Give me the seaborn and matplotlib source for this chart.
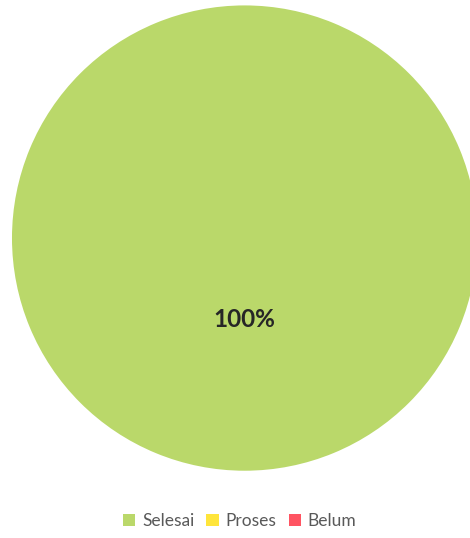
import matplotlib
matplotlib.use("Agg")
import matplotlib.pyplot as plt
import seaborn as sns

# Data
kategori = ["Selesai", "Proses", "Belum"]
nilai = [100, 0, 0]
warna = ["#BAD86A", "#FFE53B", "#FF5462"]

sns.set_theme(style="white")
plt.rcParams['font.family'] = ['Lato', 'DejaVu Sans']

fig = plt.figure(figsize=(4.7, 5.38), dpi=100)
ax = fig.add_axes([0.0255, 0.125, 0.99, 0.865])

def label_persen(p):
    return f"{p:.0f}%" if p > 0 else ""

wedges, texts, autotexts = ax.pie(
    nilai,
    colors=warna,
    startangle=90,
    counterclock=False,
    autopct=label_persen,
    pctdistance=0.35,
    wedgeprops=dict(linewidth=0),
    textprops=dict(fontsize=17.5, fontweight="bold", color="#262626"),
)
ax.set_xlim(-1, 1)
ax.set_ylim(-1, 1)
ax.set_aspect("equal")

fig.legend(
    wedges, kategori,
    loc="center", bbox_to_anchor=(0.51, 0.031),
    ncol=3, frameon=False, fontsize=12.5,
    handlelength=0.7, handleheight=0.7, handletextpad=0.4, columnspacing=0.7,
    labelcolor="#595959",
)

fig.savefig("out.png", dpi=100)
